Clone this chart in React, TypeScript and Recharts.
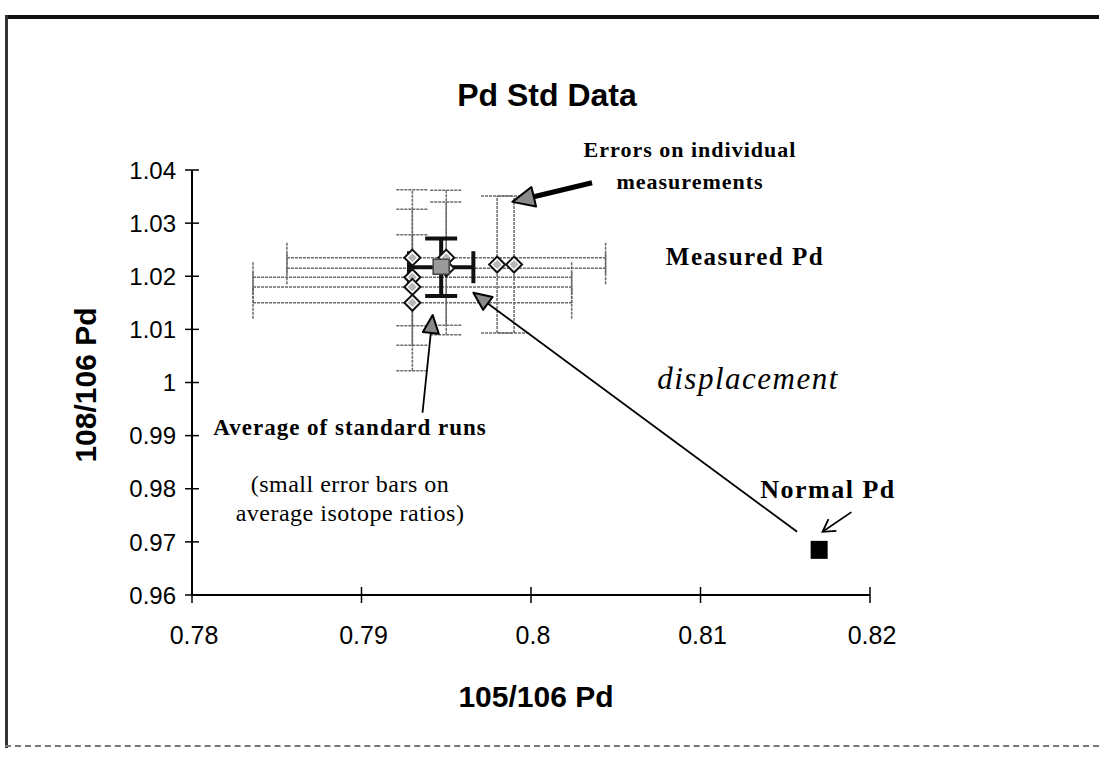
import React from 'react';
import { ScatterChart, Scatter, XAxis, YAxis, ErrorBar, ReferenceLine } from 'recharts';

// axis ticks
const xTicks = [0.78, 0.79, 0.8, 0.81, 0.82];
const yTicks = [0.96, 0.97, 0.98, 0.99, 1, 1.01, 1.02, 1.03, 1.04];

// individual standard runs: 105/106 Pd vs 108/106 Pd and their errors (0 = no bar)
const runX = [0.793, 0.793, 0.793, 0.793, 0.795, 0.795, 0.798, 0.799];
const runY = [1.0235, 1.0198, 1.018, 1.015, 1.0235, 1.0215, 1.0222, 1.0222];
const runErrX = [0, 0.0094, 0.0094, 0.0094, 0.0094, 0.0094, 0, 0];
const runErrY = [0.0128, 0.0128, 0, 0.0128, 0.0127, 0.0125, 0.0129, 0.0129];

// average of the standard runs
const avgX = [0.7947];
const avgY = [1.0217];
const avgErrX = [0.0019];
const avgErrY = [0.0054];

// natural (normal) Pd
const normalX = [0.817];
const normalY = [0.9685];

// annotation arrows, tail -> tip, in data units
const errorsArrow = [{ x: 0.8036, y: 1.0376 }, { x: 0.7989, y: 1.034 }];
const averageArrow = [{ x: 0.7936, y: 0.9943 }, { x: 0.7942, y: 1.0127 }];
const shiftArrow = [{ x: 0.8157, y: 0.9719 }, { x: 0.7966, y: 1.0169 }];
const normalArrow = [{ x: 0.8189, y: 0.9756 }, { x: 0.8172, y: 0.9719 }];

const runs = runX.map((x, i) => ({ x, y: runY[i], ex: runErrX[i], ey: runErrY[i] }));
const runsErrX = runs.filter((d) => d.ex > 0);
const runsErrY = runs.filter((d) => d.ey > 0);
const average = avgX.map((x, i) => ({ x, y: avgY[i], ex: avgErrX[i], ey: avgErrY[i] }));
const normal = normalX.map((x, i) => ({ x, y: normalY[i] }));

const SANS = '"Liberation Sans", Arial, sans-serif';
const SERIF = '"Liberation Serif", "Times New Roman", serif';

const Nothing = () => <g />;

const Diamond = (p: any) => {
  const { cx, cy } = p;
  const r = 8;
  const r2 = 4.5;
  return (
    <g>
      <polygon
        points={`${cx},${cy - r} ${cx + r},${cy} ${cx},${cy + r} ${cx - r},${cy}`}
        fill="#ffffff"
        stroke="#111"
        strokeWidth={2}
      />
      <polygon
        points={`${cx},${cy - r2} ${cx + r2},${cy} ${cx},${cy + r2} ${cx - r2},${cy}`}
        fill="#b8b8b8"
      />
    </g>
  );
};

const AvgSquare = (p: any) => {
  const { cx, cy } = p;
  return <rect x={cx - 8} y={cy - 8} width={16} height={15} fill="#9a9a9a" stroke="#444" strokeWidth={1.5} />;
};

const NormalSquare = (p: any) => {
  const { cx, cy } = p;
  return <rect x={cx - 8.5} y={cy - 9} width={17} height={18} fill="#000" />;
};

// line with an arrowhead drawn at the second point
const makeArrow = (kind: 'solid' | 'open', lineWidth: number, headLen: number, headHalf: number) => (p: any) => {
  const { x1, y1, x2, y2 } = p;
  const ang = Math.atan2(y2 - y1, x2 - x1);
  const c = Math.cos(ang);
  const s = Math.sin(ang);
  const bx = x2 - headLen * c;
  const by = y2 - headLen * s;
  if (kind === 'open') {
    return (
      <g>
        <line x1={x1} y1={y1} x2={x2} y2={y2} stroke="#000" strokeWidth={lineWidth} />
        <polyline
          points={`${bx - headHalf * s},${by + headHalf * c} ${x2},${y2} ${bx + headHalf * s},${by - headHalf * c}`}
          fill="none"
          stroke="#000"
          strokeWidth={lineWidth}
        />
      </g>
    );
  }
  return (
    <g>
      <line x1={x1} y1={y1} x2={bx} y2={by} stroke="#000" strokeWidth={lineWidth} />
      <polygon
        points={`${x2},${y2} ${bx - headHalf * s},${by + headHalf * c} ${bx + headHalf * s},${by - headHalf * c}`}
        fill="#8a8a8a"
        stroke="#000"
        strokeWidth={2}
        strokeLinejoin="round"
      />
    </g>
  );
};

const YTick = (p: any) => {
  const { x, y, payload } = p;
  return (
    <g>
      <line x1={x - 7} x2={x + 7} y1={y} y2={y} stroke="#000" strokeWidth={1.5} />
      <text x={x - 16} y={y} dy="0.36em" textAnchor="end" fontFamily={SANS} fontSize={24} fill="#000">
        {payload.value}
      </text>
    </g>
  );
};

const XTick = (p: any) => {
  const { x, y, payload } = p;
  return (
    <g>
      <line x1={x} x2={x} y1={y - 8} y2={y + 8} stroke="#000" strokeWidth={1.5} />
      <text x={x + 2} y={y + 49} textAnchor="middle" fontFamily={SANS} fontSize={25} fill="#000">
        {payload.value}
      </text>
    </g>
  );
};

const txt = (left: number, top: number, style: React.CSSProperties, content: React.ReactNode) => (
  <div
    style={{
      position: 'absolute',
      left,
      top,
      transform: 'translate(-50%, -50%)',
      whiteSpace: 'nowrap',
      lineHeight: 1,
      color: '#000',
      ...style,
    }}
  >
    {content}
  </div>
);

export default function App() {
  const errStyle = { stroke: '#6a6a6a', strokeWidth: 1.5, strokeDasharray: '3 1' };
  return (
    <div style={{ position: 'absolute', left: 0, top: 0, width: 1099, height: 758, background: '#fff', overflow: 'hidden' }}>
      {/* scanned frame */}
      <div style={{ position: 'absolute', left: 5, top: 15, width: 1094, height: 4, background: '#111' }} />
      <div style={{ position: 'absolute', left: 5, top: 15, width: 3, height: 733, background: '#333' }} />
      <div style={{ position: 'absolute', left: 5, top: 745, width: 1094, height: 0, borderTop: '2px dashed #777' }} />

      <ScatterChart width={1099} height={758} margin={{ top: 170, right: 229, bottom: 103, left: 92 }}>
        <XAxis
          type="number"
          dataKey="x"
          domain={[0.78, 0.82]}
          ticks={xTicks}
          allowDataOverflow
          height={60}
          axisLine={{ stroke: '#000', strokeWidth: 2 }}
          tickLine={false}
          tickSize={0}
          tickMargin={0}
          tick={<XTick />}
        />
        <YAxis
          type="number"
          dataKey="y"
          domain={[0.96, 1.04]}
          ticks={yTicks}
          allowDataOverflow
          width={100}
          axisLine={{ stroke: '#000', strokeWidth: 2 }}
          tickLine={false}
          tickSize={0}
          tickMargin={0}
          tick={<YTick />}
        />

        {/* error bars of the individual runs, drawn beneath the markers */}
        <Scatter data={runsErrX} shape={<Nothing />} isAnimationActive={false}>
          <ErrorBar dataKey="ex" direction="x" width={16} {...errStyle} isAnimationActive={false} />
        </Scatter>
        <Scatter data={runsErrY} shape={<Nothing />} isAnimationActive={false}>
          <ErrorBar dataKey="ey" direction="y" width={16} {...errStyle} isAnimationActive={false} />
        </Scatter>
        <Scatter data={runs} shape={<Diamond />} isAnimationActive={false} />

        <Scatter data={average} shape={<AvgSquare />} isAnimationActive={false}>
          <ErrorBar dataKey="ex" direction="x" width={16} stroke="#111" strokeWidth={4} isAnimationActive={false} />
          <ErrorBar dataKey="ey" direction="y" width={16} stroke="#111" strokeWidth={4} isAnimationActive={false} />
        </Scatter>

        <Scatter data={normal} shape={<NormalSquare />} isAnimationActive={false} />

        <ReferenceLine segment={errorsArrow} shape={makeArrow('solid', 5, 22, 10)} />
        <ReferenceLine segment={averageArrow} shape={makeArrow('solid', 1.8, 18, 8)} />
        <ReferenceLine segment={shiftArrow} shape={makeArrow('solid', 1.8, 18, 8)} />
        <ReferenceLine segment={normalArrow} shape={makeArrow('open', 1.8, 12, 7)} />
      </ScatterChart>

      {txt(547, 95, { fontFamily: SANS, fontWeight: 700, fontSize: 32 }, 'Pd Std Data')}
      {txt(86, 385, { fontFamily: SANS, fontWeight: 700, fontSize: 30, transform: 'translate(-50%, -50%) rotate(-90deg)' }, '108/106 Pd')}
      {txt(536, 697, { fontFamily: SANS, fontWeight: 700, fontSize: 30 }, '105/106 Pd')}

      {txt(690, 150, { fontFamily: SERIF, fontWeight: 700, fontSize: 22, letterSpacing: 1 }, 'Errors on individual')}
      {txt(690, 182, { fontFamily: SERIF, fontWeight: 700, fontSize: 22, letterSpacing: 1 }, 'measurements')}
      {txt(745, 256, { fontFamily: SERIF, fontWeight: 700, fontSize: 25, letterSpacing: 1.5 }, 'Measured Pd')}
      {txt(748, 378, { fontFamily: SERIF, fontStyle: 'italic', fontSize: 31, letterSpacing: 1.5 }, 'displacement')}
      {txt(350, 427, { fontFamily: SERIF, fontWeight: 700, fontSize: 23, letterSpacing: 1 }, 'Average of standard runs')}
      {txt(350, 484, { fontFamily: SERIF, fontSize: 24, letterSpacing: 0.5 }, '(small error bars on')}
      {txt(350, 513, { fontFamily: SERIF, fontSize: 24, letterSpacing: 0.5 }, 'average isotope ratios)')}
      {txt(828, 490, { fontFamily: SERIF, fontWeight: 700, fontSize: 26, letterSpacing: 1.5 }, 'Normal Pd')}
    </div>
  );
}
